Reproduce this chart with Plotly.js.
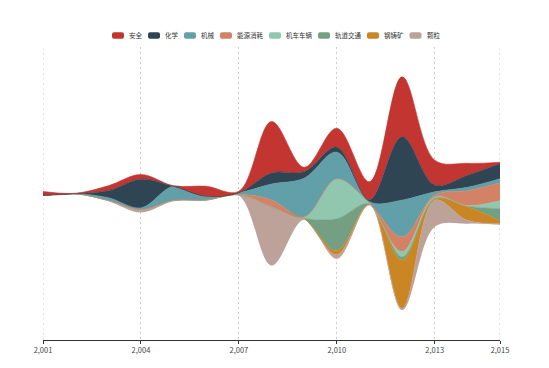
<!DOCTYPE html>
<html>
<head>
<meta charset="utf-8">
<script src="https://cdn.plot.ly/plotly-3.0.1.min.js"></script>
<style>html,body{margin:0;padding:0;background:#fff;}#chart{width:549px;height:368px;}</style>
</head>
<body>
<div id="chart"></div>
<script>
// ---- data ----
const years = [2001,2002,2003,2004,2005,2006,2007,2008,2009,2010,2011,2012,2013,2014,2015];
const categories = ['安全','化学','机械','能源消耗','机车车辆','轨道交通','钢铸矿','颗粒'];
const anquan    = [4, 0.5, 5, 4.7, 0.5, 10, 1.5, 51.5, 4.5, 19, 18, 60, 25, 12, 1.5];
const huaxue    = [0, 0, 7, 28.7, 0, 0, 0, 11, 6.5, 5, 2, 63.3, 6.7, 12, 15];
const jixie     = [0, 0, 2.5, 1.3, 14, 3.5, 1.5, 16, 38.5, 26.6, 1, 36.7, 3.3, 3.3, 4];
const nengyuan  = [0, 0, 0, 0, 0, 0, 0.5, 7, 1, 0, 0.5, 15, 2, 15, 18];
const jiche     = [0, 0, 0, 0, 0, 0, 0, 0, 0.5, 40, 0.5, 5, 1, 0.5, 8];
const guidao    = [0, 0, 0, 0, 0, 0, 0, 0, 0.5, 32, 0.5, 3.3, 1, 0.5, 12];
const gangzhu   = [0, 0, 0, 0, 0, 0, 0, 0, 0, 4, 0.5, 48.3, 1, 13.7, 3];
const keli      = [0, 0, 1, 3.3, 1, 1, 1, 58.5, 1, 4, 0.5, 1.7, 26.7, 3.3, 1];
const tickVals  = [2001, 2004, 2007, 2010, 2013, 2015];
const tickLabels = ['2,001','2,004','2,007','2,010','2,013','2,015'];

const colors = ['#c23531','#2f4554','#61a0a8','#d48265','#91c7ae','#749f83','#ca8622','#bda29a'];
const series = [anquan, huaxue, jixie, nengyuan, jiche, guidao, gangzhu, keli];

// ---- themeRiver layout: centered baseline, stacked from bottom (last series) to top (first) ----
const totals = years.map((_, i) => series.reduce((s, arr) => s + arr[i], 0));
const traces = [];
let cur = totals.map(t => -t / 2);
traces.push({x: years, y: cur.slice(), type: 'scatter', mode: 'lines',
  line: {width: 0, shape: 'spline', smoothing: 1}, hoverinfo: 'skip', showlegend: false});
for (let k = series.length - 1; k >= 0; k--) {
  cur = cur.map((v, i) => v + series[k][i]);
  traces.push({x: years, y: cur.slice(), type: 'scatter', mode: 'lines', name: categories[k],
    fill: 'tonexty', fillcolor: colors[k],
    line: {width: 0.6, color: colors[k], shape: 'spline', smoothing: 1},
    hoverinfo: 'skip', showlegend: false});
}

// ---- plot area in pixels ----
const L = 43, R = 500, T = 47, B = 340, W = 549, H = 368;
const pw = R - L, ph = B - T;
const px2x = p => (p - L) / pw;
const py2y = p => (B - p) / ph;

// ---- custom legend (ECharts-style rounded icons) ----
const shapes = [], annotations = [];
const fs = 6.5, iconW = 12, iconH = 6.5, rad = 2, textGap = 3, itemGap = 8, legY = 35.5;
let lx = 112;
categories.forEach((name, k) => {
  const x0 = lx, x1 = lx + iconW, y0 = legY - iconH / 2, y1 = legY + iconH / 2;
  const X = px2x, Y = py2y;
  const path = `M ${X(x0+rad)},${Y(y0)} L ${X(x1-rad)},${Y(y0)} Q ${X(x1)},${Y(y0)} ${X(x1)},${Y(y0+rad)} ` +
    `L ${X(x1)},${Y(y1-rad)} Q ${X(x1)},${Y(y1)} ${X(x1-rad)},${Y(y1)} L ${X(x0+rad)},${Y(y1)} ` +
    `Q ${X(x0)},${Y(y1)} ${X(x0)},${Y(y1-rad)} L ${X(x0)},${Y(y0+rad)} Q ${X(x0)},${Y(y0)} ${X(x0+rad)},${Y(y0)} Z`;
  shapes.push({type: 'path', xref: 'paper', yref: 'paper', path: path,
    fillcolor: colors[k], line: {width: 0}});
  const tx = x1 + textGap;
  annotations.push({xref: 'paper', yref: 'paper', x: px2x(tx), y: py2y(legY),
    xanchor: 'left', yanchor: 'middle', showarrow: false, text: name,
    font: {family: 'Noto Sans CJK SC, sans-serif', size: fs, color: '#333'}});
  lx = tx + name.length * fs + itemGap;
});

// dashed split lines at the two ends of the axis (Plotly omits grid at range edges)
[tickVals[0], tickVals[tickVals.length - 1]].forEach(v => {
  shapes.push({type: 'line', xref: 'x', yref: 'paper', x0: v, x1: v, y0: 0, y1: 1,
    layer: 'below', line: {color: '#cfcfcf', width: 1, dash: '2px,3px'}});
});

const layout = {
  width: W, height: H,
  margin: {l: L, r: W - R, t: T, b: H - B, pad: 0},
  paper_bgcolor: '#fff', plot_bgcolor: '#fff',
  showlegend: false,
  xaxis: {range: [2001, 2015], tickmode: 'array', tickvals: tickVals, ticktext: tickLabels,
    showgrid: true, gridcolor: '#cfcfcf', griddash: '2px,3px', gridwidth: 1,
    showline: true, linecolor: '#333', linewidth: 1, ticks: 'outside', ticklen: 3, tickcolor: '#333',
    tickfont: {family: 'Noto Sans CJK SC, sans-serif', size: 7.5, color: '#444'},
    zeroline: false, fixedrange: true, layer: 'below traces'},
  yaxis: {range: [-ph / 2, ph / 2], visible: false, fixedrange: true},
  shapes: shapes, annotations: annotations
};
Plotly.newPlot('chart', traces, layout, {staticPlot: true, displayModeBar: false});
</script>
</body>
</html>
